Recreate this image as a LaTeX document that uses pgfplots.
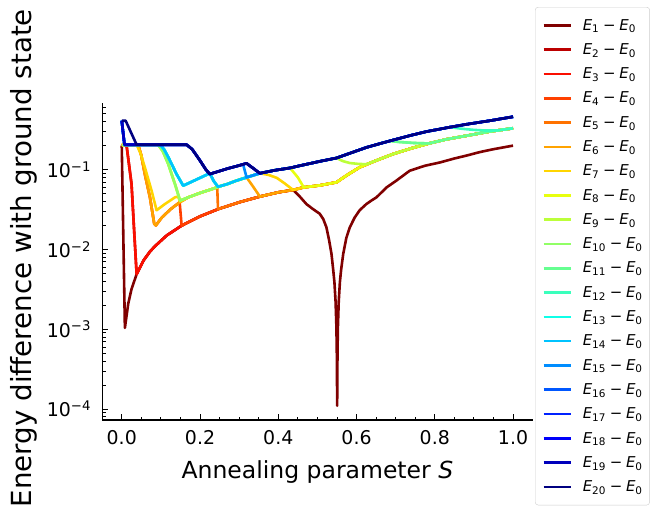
\documentclass[border=0pt]{standalone}
\usepackage{fontspec}
\setmainfont{DejaVu Sans}
\usepackage{pgfplots}
\pgfplotsset{compat=1.18}
\definecolor{c1}{RGB}{128,0,0}
\definecolor{c2}{RGB}{188,0,0}
\definecolor{c3}{RGB}{250,14,0}
\definecolor{c4}{RGB}{255,64,0}
\definecolor{c5}{RGB}{255,114,0}
\definecolor{c6}{RGB}{255,163,0}
\definecolor{c7}{RGB}{255,213,0}
\definecolor{c8}{RGB}{232,255,15}
\definecolor{c9}{RGB}{188,255,58}
\definecolor{c10}{RGB}{145,255,102}
\definecolor{c11}{RGB}{102,255,145}
\definecolor{c12}{RGB}{58,255,188}
\definecolor{c13}{RGB}{15,255,232}
\definecolor{c14}{RGB}{0,195,255}
\definecolor{c15}{RGB}{0,141,255}
\definecolor{c16}{RGB}{0,87,255}
\definecolor{c17}{RGB}{0,34,255}
\definecolor{c18}{RGB}{0,0,250}
\definecolor{c19}{RGB}{0,0,188}
\definecolor{c20}{RGB}{0,0,128}
\newcommand{\Eg}[1]{\textit{E}\textsubscript{#1}\hspace{0.25em}−\hspace{0.25em}\textit{E}\textsubscript{0}}
\begin{document}
\begin{tikzpicture}
\begin{axis}[
  scale only axis, width=430.4bp, height=317.3bp,
  at={(0,0)}, anchor=south west,
  xmin=-0.05, xmax=1.05, ymode=log, ymin=7.3e-5, ymax=0.69,
  axis x line*=bottom, axis y line*=left,
  axis line style={-, line width=1.1bp},
  tick align=inside,
  xtick={0,0.2,0.4,0.6,0.8,1},
  xticklabels={0.0,0.2,0.4,0.6,0.8,1.0},
  minor x tick num=3,
  ytick={1e-4,1e-3,1e-2,1e-1},
  yticklabels={10\textsuperscript{−4},10\textsuperscript{−3},10\textsuperscript{−2},10\textsuperscript{−1}},
  minor ytick={8e-5,9e-5,2e-4,3e-4,4e-4,5e-4,6e-4,7e-4,8e-4,9e-4,2e-3,3e-3,4e-3,5e-3,6e-3,7e-3,8e-3,9e-3,2e-2,3e-2,4e-2,5e-2,6e-2,7e-2,8e-2,9e-2,0.2,0.3,0.4,0.5,0.6},
  major tick length=6bp, minor tick length=3.5bp,
  every tick/.style={black, line width=0.9bp},
  tick label style={font=\fontsize{19}{22}\selectfont},
  xticklabel style={anchor=north, inner sep=0pt, yshift=-10bp},
  yticklabel style={anchor=east, inner sep=0pt, xshift=-11bp},
  xlabel={Annealing parameter \textit{S}},
  ylabel={Energy difference with ground state},
  every axis x label/.style={at={(axis description cs:0.5,-0.183)}, anchor=base, font=\fontsize{23.6}{28}\selectfont},
  every axis y label/.style={at={(axis description cs:-0.1654,0.51)}, anchor=base, rotate=90, font=\fontsize{27.8}{32}\selectfont},
  every axis plot/.append style={line width=2.6bp, line join=round, no markers},
  legend cell align=left,
  legend image code/.code={\draw[#1] (6bp,0bp) -- (33bp,0bp);},
  legend style={at={(axis description cs:1.00558,1.30161)}, anchor=north west,
    draw=black!20, rounded corners=3bp, fill=white,
    font=\fontsize{15}{17}\selectfont, row sep=11.9bp, column sep=11bp,
    inner xsep=7bp, inner ysep=12bp, nodes={inner sep=0pt}},
]
% E1
\addplot[c1] coordinates {(0,0.2) (0.008,0.00104) (0.0166,0.0021) (0.025,0.0032) (0.038,0.0049) (0.055,0.0072) (0.072,0.0094) (0.085,0.011) (0.115,0.015) (0.153,0.0199) (0.2,0.026) (0.246,0.032) (0.3,0.039) (0.353,0.046) (0.4,0.052) (0.438,0.0557) (0.455,0.046) (0.472,0.037) (0.489,0.032) (0.506,0.028) (0.515,0.024) (0.523,0.019) (0.530,0.013) (0.536,0.0088) (0.5405,0.0055) (0.5435,0.0039) (0.5465,0.0022) (0.5485,0.0011) (0.5495,0.00056) (0.55,0.0003) (0.5505,0.00011) (0.551,0.0003) (0.5515,0.00056) (0.5525,0.0011) (0.5545,0.0022) (0.5575,0.0039) (0.5605,0.0055) (0.566,0.0088) (0.574,0.014) (0.583,0.019) (0.595,0.025) (0.608,0.031) (0.625,0.037) (0.638,0.041) (0.651,0.045) (0.677,0.060) (0.702,0.073) (0.736,0.097) (0.775,0.112) (0.813,0.123) (0.85,0.138) (0.881,0.15) (0.915,0.166) (0.949,0.18) (0.975,0.19) (1.0,0.2)};
\addlegendentry{\Eg{1}}
% E2
\addplot[c2] coordinates {(0,0.203) (0.012,0.205) (0.025,0.066) (0.032,0.016) (0.038,0.0049) (0.055,0.0072) (0.072,0.0094) (0.085,0.011) (0.115,0.015) (0.153,0.0199) (0.2,0.026) (0.246,0.032) (0.3,0.039) (0.353,0.046) (0.4,0.052) (0.438,0.0557) (0.465,0.060) (0.506,0.0635) (0.549,0.0695) (0.575,0.085) (0.608,0.107) (0.65,0.13) (0.6935,0.157) (0.74,0.185) (0.785,0.213) (0.83,0.24) (0.881,0.266) (0.94,0.30) (0.96,0.31) (1.0,0.33)};
\addlegendentry{\Eg{2}}
% E3
\addplot[c3] coordinates {(0,0.203) (0.012,0.205) (0.025,0.066) (0.032,0.016) (0.038,0.0049) (0.055,0.0072) (0.072,0.0094) (0.085,0.011) (0.115,0.015) (0.153,0.0199) (0.2,0.026) (0.246,0.032) (0.3,0.039) (0.353,0.046) (0.4,0.052) (0.438,0.0557) (0.465,0.060) (0.506,0.0635) (0.549,0.0695) (0.575,0.085) (0.608,0.107) (0.65,0.13) (0.6935,0.157) (0.74,0.185) (0.785,0.213) (0.83,0.24) (0.881,0.266) (0.94,0.30) (0.96,0.31) (1.0,0.33)};
\addlegendentry{\Eg{3}}
% E4
\addplot[c4] coordinates {(0,0.203) (0.042,0.205) (0.05,0.15) (0.059,0.088) (0.072,0.045) (0.083,0.021) (0.087,0.020) (0.102,0.025) (0.125,0.032) (0.148,0.039) (0.153,0.0199) (0.2,0.026) (0.246,0.032) (0.3,0.039) (0.353,0.046) (0.4,0.052) (0.438,0.0557) (0.465,0.060) (0.506,0.0635) (0.549,0.0695) (0.575,0.085) (0.608,0.107) (0.65,0.13) (0.6935,0.157) (0.74,0.185) (0.785,0.213) (0.83,0.24) (0.881,0.266) (0.94,0.30) (0.96,0.31) (1.0,0.33)};
\addlegendentry{\Eg{4}}
% E5
\addplot[c5] coordinates {(0,0.203) (0.042,0.205) (0.05,0.15) (0.059,0.088) (0.072,0.045) (0.083,0.021) (0.087,0.020) (0.102,0.025) (0.125,0.032) (0.148,0.039) (0.17,0.045) (0.2,0.051) (0.244,0.06) (0.246,0.032) (0.3,0.039) (0.353,0.046) (0.4,0.052) (0.438,0.0557) (0.465,0.060) (0.506,0.0635) (0.549,0.0695) (0.575,0.085) (0.608,0.107) (0.65,0.13) (0.6935,0.157) (0.74,0.185) (0.785,0.213) (0.83,0.24) (0.881,0.266) (0.94,0.30) (0.96,0.31) (1.0,0.33)};
\addlegendentry{\Eg{5}}
% E6
\addplot[c6] coordinates {(0,0.203) (0.042,0.205) (0.05,0.15) (0.059,0.088) (0.072,0.045) (0.083,0.021) (0.087,0.020) (0.102,0.025) (0.125,0.032) (0.148,0.039) (0.17,0.045) (0.2,0.051) (0.244,0.06) (0.246,0.061) (0.27,0.066) (0.29,0.072) (0.319,0.08) (0.335,0.062) (0.353,0.046) (0.4,0.052) (0.438,0.0557) (0.465,0.060) (0.506,0.0635) (0.549,0.0695) (0.575,0.085) (0.608,0.107) (0.65,0.13) (0.6935,0.157) (0.74,0.185) (0.785,0.213) (0.83,0.24) (0.881,0.266) (0.94,0.30) (0.96,0.31) (1.0,0.33)};
\addlegendentry{\Eg{6}}
% E7
\addplot[c7] coordinates {(0,0.203) (0.038,0.205) (0.048,0.16) (0.059,0.107) (0.076,0.055) (0.089,0.031) (0.11,0.037) (0.136,0.045) (0.144,0.046) (0.149,0.040) (0.17,0.045) (0.2,0.051) (0.244,0.06) (0.246,0.061) (0.27,0.066) (0.29,0.072) (0.319,0.08) (0.353,0.09) (0.375,0.086) (0.396,0.079) (0.415,0.068) (0.438,0.0557) (0.465,0.060) (0.506,0.0635) (0.549,0.0695) (0.575,0.085) (0.608,0.107) (0.65,0.13) (0.6935,0.157) (0.74,0.185) (0.785,0.213) (0.83,0.24) (0.881,0.266) (0.94,0.30) (0.96,0.31) (1.0,0.33)};
\addlegendentry{\Eg{7}}
% E8
\addplot[c8] coordinates {(0,0.203) (0.093,0.205) (0.105,0.17) (0.119,0.117) (0.136,0.066) (0.149,0.041) (0.17,0.045) (0.2,0.051) (0.244,0.06) (0.246,0.061) (0.27,0.066) (0.29,0.072) (0.319,0.08) (0.353,0.09) (0.39,0.098) (0.43,0.105) (0.45,0.08) (0.465,0.060) (0.506,0.0635) (0.549,0.0695) (0.575,0.085) (0.608,0.107) (0.65,0.13) (0.6935,0.157) (0.74,0.185) (0.785,0.213) (0.83,0.24) (0.881,0.266) (0.94,0.30) (0.96,0.31) (1.0,0.33)};
\addlegendentry{\Eg{8}}
% E9
\addplot[c9] coordinates {(0,0.203) (0.093,0.205) (0.105,0.17) (0.119,0.117) (0.136,0.066) (0.149,0.041) (0.17,0.045) (0.2,0.051) (0.244,0.06) (0.246,0.061) (0.27,0.066) (0.29,0.072) (0.319,0.08) (0.353,0.09) (0.39,0.098) (0.43,0.105) (0.455,0.112) (0.506,0.127) (0.549,0.14) (0.565,0.128) (0.583,0.121) (0.605,0.118) (0.625,0.117) (0.65,0.13) (0.6935,0.157) (0.74,0.185) (0.785,0.213) (0.83,0.24) (0.881,0.266) (0.94,0.30) (0.96,0.31) (1.0,0.33)};
\addlegendentry{\Eg{9}}
% E10
\addplot[c10] coordinates {(0,0.203) (0.093,0.205) (0.105,0.17) (0.119,0.117) (0.136,0.066) (0.149,0.041) (0.17,0.045) (0.2,0.051) (0.244,0.06) (0.246,0.061) (0.27,0.066) (0.29,0.072) (0.319,0.08) (0.353,0.09) (0.39,0.098) (0.43,0.105) (0.455,0.112) (0.506,0.127) (0.549,0.14) (0.59,0.165) (0.6255,0.19) (0.66,0.212) (0.685,0.229) (0.71,0.222) (0.745,0.216) (0.785,0.213) (0.83,0.24) (0.881,0.266) (0.94,0.30) (0.96,0.31) (1.0,0.33)};
\addlegendentry{\Eg{10}}
% E11
\addplot[c11] coordinates {(0,0.41) (0.007,0.205) (0.098,0.205) (0.108,0.18) (0.119,0.143) (0.14,0.088) (0.157,0.063) (0.18,0.071) (0.205,0.081) (0.225,0.09) (0.235,0.072) (0.246,0.061) (0.27,0.066) (0.29,0.072) (0.319,0.08) (0.353,0.09) (0.39,0.098) (0.43,0.105) (0.455,0.112) (0.506,0.127) (0.549,0.14) (0.59,0.165) (0.6255,0.19) (0.66,0.212) (0.685,0.229) (0.71,0.222) (0.745,0.216) (0.785,0.213) (0.83,0.24) (0.881,0.266) (0.94,0.30) (0.96,0.31) (1.0,0.33)};
\addlegendentry{\Eg{11}}
% E12
\addplot[c12] coordinates {(0,0.41) (0.007,0.205) (0.098,0.205) (0.108,0.18) (0.119,0.143) (0.14,0.088) (0.157,0.063) (0.18,0.071) (0.205,0.081) (0.225,0.09) (0.235,0.072) (0.246,0.061) (0.27,0.066) (0.29,0.072) (0.319,0.08) (0.353,0.09) (0.39,0.098) (0.43,0.105) (0.455,0.112) (0.506,0.127) (0.549,0.14) (0.59,0.165) (0.6255,0.19) (0.66,0.212) (0.685,0.229) (0.74,0.27) (0.779,0.30) (0.838,0.34) (0.87,0.325) (0.9,0.315) (0.93,0.309) (0.96,0.31) (1.0,0.33)};
\addlegendentry{\Eg{12}}
% E13
\addplot[c13] coordinates {(0,0.41) (0.007,0.205) (0.098,0.205) (0.108,0.18) (0.119,0.143) (0.14,0.088) (0.157,0.063) (0.18,0.071) (0.205,0.081) (0.225,0.09) (0.235,0.072) (0.246,0.061) (0.27,0.066) (0.29,0.072) (0.319,0.08) (0.353,0.09) (0.39,0.098) (0.43,0.105) (0.455,0.112) (0.506,0.127) (0.549,0.14) (0.59,0.165) (0.6255,0.19) (0.66,0.212) (0.685,0.229) (0.74,0.27) (0.779,0.30) (0.838,0.34) (0.881,0.37) (0.94,0.41) (1.0,0.46)};
\addlegendentry{\Eg{13}}
% E14
\addplot[c14] coordinates {(0,0.41) (0.007,0.205) (0.098,0.205) (0.108,0.18) (0.119,0.143) (0.14,0.088) (0.157,0.063) (0.18,0.071) (0.205,0.081) (0.225,0.09) (0.235,0.072) (0.246,0.061) (0.27,0.066) (0.29,0.072) (0.319,0.08) (0.353,0.09) (0.39,0.098) (0.43,0.105) (0.455,0.112) (0.506,0.127) (0.549,0.14) (0.59,0.165) (0.6255,0.19) (0.66,0.212) (0.685,0.229) (0.74,0.27) (0.779,0.30) (0.838,0.34) (0.881,0.37) (0.94,0.41) (1.0,0.46)};
\addlegendentry{\Eg{14}}
% E15
\addplot[c15] coordinates {(0,0.41) (0.007,0.205) (0.166,0.205) (0.18,0.18) (0.2,0.13) (0.215,0.1) (0.225,0.088) (0.25,0.096) (0.27,0.103) (0.295,0.111) (0.31,0.117) (0.319,0.08) (0.353,0.09) (0.39,0.098) (0.43,0.105) (0.455,0.112) (0.506,0.127) (0.549,0.14) (0.59,0.165) (0.6255,0.19) (0.66,0.212) (0.685,0.229) (0.74,0.27) (0.779,0.30) (0.838,0.34) (0.881,0.37) (0.94,0.41) (1.0,0.46)};
\addlegendentry{\Eg{15}}
% E16
\addplot[c16] coordinates {(0,0.41) (0.007,0.205) (0.166,0.205) (0.18,0.18) (0.2,0.13) (0.215,0.1) (0.225,0.088) (0.25,0.096) (0.27,0.103) (0.295,0.111) (0.319,0.12) (0.336,0.104) (0.353,0.09) (0.39,0.098) (0.43,0.105) (0.455,0.112) (0.506,0.127) (0.549,0.14) (0.59,0.165) (0.6255,0.19) (0.66,0.212) (0.685,0.229) (0.74,0.27) (0.779,0.30) (0.838,0.34) (0.881,0.37) (0.94,0.41) (1.0,0.46)};
\addlegendentry{\Eg{16}}
% E17
\addplot[c17] coordinates {(0,0.41) (0.007,0.205) (0.166,0.205) (0.18,0.18) (0.2,0.13) (0.215,0.1) (0.225,0.088) (0.25,0.096) (0.27,0.103) (0.295,0.111) (0.319,0.12) (0.336,0.104) (0.353,0.09) (0.39,0.098) (0.43,0.105) (0.455,0.112) (0.506,0.127) (0.549,0.14) (0.59,0.165) (0.6255,0.19) (0.66,0.212) (0.685,0.229) (0.74,0.27) (0.779,0.30) (0.838,0.34) (0.881,0.37) (0.94,0.41) (1.0,0.46)};
\addlegendentry{\Eg{17}}
% E18
\addplot[c18] coordinates {(0,0.41) (0.007,0.205) (0.166,0.205) (0.18,0.18) (0.2,0.13) (0.215,0.1) (0.225,0.088) (0.25,0.096) (0.27,0.103) (0.295,0.111) (0.319,0.12) (0.336,0.104) (0.353,0.09) (0.39,0.098) (0.43,0.105) (0.455,0.112) (0.506,0.127) (0.549,0.14) (0.59,0.165) (0.6255,0.19) (0.66,0.212) (0.685,0.229) (0.74,0.27) (0.779,0.30) (0.838,0.34) (0.881,0.37) (0.94,0.41) (1.0,0.46)};
\addlegendentry{\Eg{18}}
% E19
\addplot[c19] coordinates {(0,0.41) (0.007,0.205) (0.166,0.205) (0.18,0.18) (0.2,0.13) (0.215,0.1) (0.225,0.088) (0.25,0.096) (0.27,0.103) (0.295,0.111) (0.319,0.12) (0.336,0.104) (0.353,0.09) (0.39,0.098) (0.43,0.105) (0.455,0.112) (0.506,0.127) (0.549,0.14) (0.59,0.165) (0.6255,0.19) (0.66,0.212) (0.685,0.229) (0.74,0.27) (0.779,0.30) (0.838,0.34) (0.881,0.37) (0.94,0.41) (1.0,0.46)};
\addlegendentry{\Eg{19}}
% E20
\addplot[c20] coordinates {(0,0.41) (0.01,0.41) (0.038,0.205) (0.166,0.205) (0.18,0.18) (0.2,0.13) (0.215,0.1) (0.225,0.088) (0.25,0.096) (0.27,0.103) (0.295,0.111) (0.319,0.12) (0.336,0.104) (0.353,0.09) (0.39,0.098) (0.43,0.105) (0.455,0.112) (0.506,0.127) (0.549,0.14) (0.59,0.165) (0.6255,0.19) (0.66,0.212) (0.685,0.229) (0.74,0.27) (0.779,0.30) (0.838,0.34) (0.881,0.37) (0.94,0.41) (1.0,0.46)};
\addlegendentry{\Eg{20}}
\end{axis}
\pgfresetboundingbox
\path[use as bounding box] (-102.2bp,-93bp) rectangle (554.8bp,420bp);
\end{tikzpicture}
\end{document}
